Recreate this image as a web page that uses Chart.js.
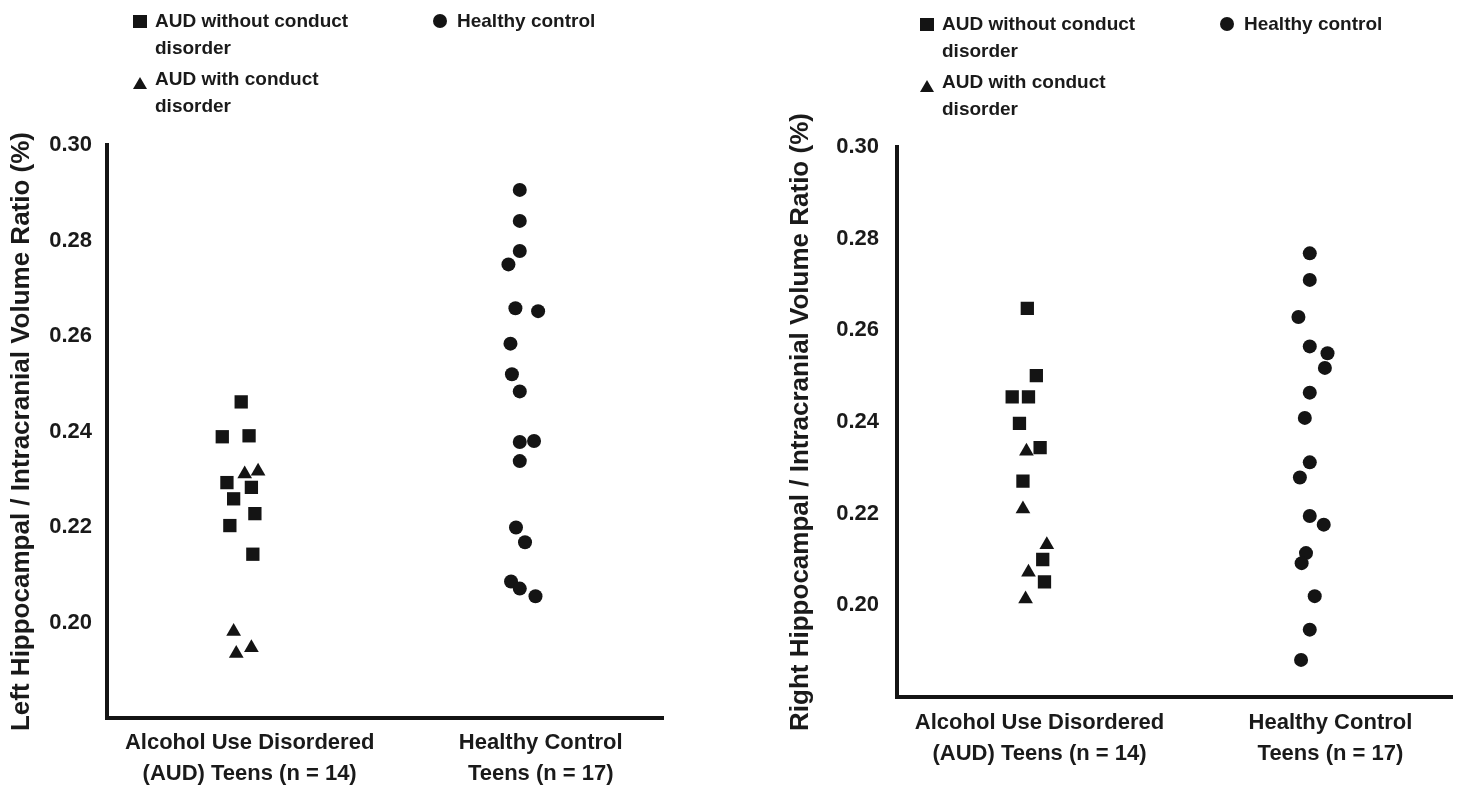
<!DOCTYPE html>
<html>
<head>
<meta charset="utf-8">
<script src="https://cdn.jsdelivr.net/npm/chart.js@4.4.1/dist/chart.umd.min.js"></script>
<style>
  html, body { margin: 0; padding: 0; background: #fff; }
  #wrap { position: relative; width: 1462px; height: 787px; overflow: hidden;
          font-family: "Liberation Sans", Arial, Helvetica, sans-serif; font-weight: bold; color: #1a1a1a; }
  canvas { position: absolute; top: 0; }
  .lg-text { position: absolute; font-size: 19px; line-height: 27px; white-space: nowrap; }
  .mk { position: absolute; background: #141414; }
  .mk.circle { border-radius: 50%; }
  .mk.tri { background: none; width: 0; height: 0;
            border-left: 7px solid transparent; border-right: 7px solid transparent; border-bottom: 12px solid #141414; }
</style>
</head>
<body>
<div id="wrap">
  <canvas id="leftChart" width="731" height="787" style="left:0"></canvas>
  <canvas id="rightChart" width="692" height="787" style="left:770px"></canvas>
</div>
<script>
// categories / ticks
const categories = [["Alcohol Use Disordered", "(AUD) Teens (n = 14)"], ["Healthy Control", "Teens (n = 17)"]];
const yTicks = [0.20, 0.22, 0.24, 0.26, 0.28, 0.30];
const seriesNames = ["AUD without conduct disorder", "AUD with conduct disorder", "Healthy control"];

// left panel (x = group position incl. jitter)
const leftNoCdX = [0.971, 0.906, 0.998, 0.922, 1.006, 0.945, 1.018, 0.932, 1.011];
const leftNoCdY = [0.2462, 0.2389, 0.2391, 0.2293, 0.2283, 0.2259, 0.2228, 0.2203, 0.2143];
const leftCdX = [0.983, 1.029, 0.945, 0.954, 1.006];
const leftCdY = [0.2311, 0.2317, 0.1981, 0.1935, 0.1947];
const leftHcX = [1.928, 1.928, 1.928, 1.889, 1.913, 1.991, 1.896, 1.901, 1.928, 1.928, 1.977, 1.928, 1.915, 1.946, 1.898, 1.928, 1.982];
const leftHcY = [0.2906, 0.2841, 0.2778, 0.2750, 0.2658, 0.2652, 0.2584, 0.2520, 0.2484, 0.2378, 0.2380, 0.2338, 0.2199, 0.2168, 0.2086, 0.2071, 0.2055];

// right panel
const rightNoCdX = [0.958, 0.989, 0.906, 0.962, 0.931, 1.002, 0.943, 1.011, 1.017];
const rightNoCdY = [0.2648, 0.2501, 0.2455, 0.2455, 0.2397, 0.2344, 0.2271, 0.2100, 0.2051];
const rightCdX = [0.955, 0.943, 1.025, 0.962, 0.952];
const rightCdY = [0.2336, 0.2210, 0.2132, 0.2072, 0.2014];
const rightHcX = [1.929, 1.929, 1.890, 1.929, 1.990, 1.981, 1.929, 1.912, 1.929, 1.895, 1.929, 1.977, 1.916, 1.901, 1.946, 1.929, 1.899];
const rightHcY = [0.2768, 0.2710, 0.2629, 0.2565, 0.2550, 0.2518, 0.2464, 0.2409, 0.2312, 0.2279, 0.2195, 0.2176, 0.2114, 0.2092, 0.2020, 0.1947, 0.1881];

Chart.defaults.font.family = '"Liberation Sans", Arial, Helvetica, sans-serif';
Chart.defaults.font.weight = "bold";
Chart.defaults.color = "#1a1a1a";

const ink = "#141414";

function pts(xs, ys) {
  return xs.map((x, i) => ({ x: x, y: ys[i] }));
}

function makeChart(id, title, sets, g) {
  const ctx = document.getElementById(id).getContext("2d");
  return new Chart(ctx, {
    type: "scatter",
    data: {
      datasets: [
        { label: seriesNames[0], data: pts(sets[0], sets[1]), pointStyle: "rect", pointRadius: 9.4 },
        { label: seriesNames[1], data: pts(sets[2], sets[3]), pointStyle: "triangle", pointRadius: 8.5 },
        { label: seriesNames[2], data: pts(sets[4], sets[5]), pointStyle: "circle", pointRadius: 7 },
      ].map((d) => Object.assign(d, { backgroundColor: ink, borderWidth: 0, pointHoverRadius: d.pointRadius })),
    },
    options: {
      responsive: false,
      animation: false,
      layout: { padding: { left: 0, top: g.top, right: g.right, bottom: 0 } },
      plugins: { legend: { display: false }, tooltip: { enabled: false } },
      scales: {
        x: {
          type: "linear",
          min: 0.51,
          max: 2.42,
          grid: { display: false, drawTicks: false },
          border: { display: true, color: ink, width: 4 },
          afterBuildTicks: (s) => { s.ticks = [{ value: 1 }, { value: 2 }]; },
          afterFit: (s) => { s.height = g.xHeight; },
          ticks: {
            padding: g.xPad,
            font: { size: 22, weight: "bold", lineHeight: 1.4 },
            callback: (v) => categories[Math.round(v) - 1],
          },
        },
        y: {
          min: 0.18,
          max: 0.30,
          grid: { display: false, drawTicks: false },
          border: { display: true, color: ink, width: 4 },
          afterBuildTicks: (s) => { s.ticks = yTicks.map((v) => ({ value: v })); },
          afterFit: (s) => { s.width = g.yWidth; },
          ticks: {
            padding: g.yPad,
            font: { size: 22, weight: "bold" },
            callback: (v) => v.toFixed(2),
          },
          title: {
            display: true,
            text: title,
            font: { size: 26, weight: "bold" },
            padding: { top: g.titlePad, bottom: 0 },
          },
        },
      },
    },
  });
}

makeChart("leftChart", "Left Hippocampal / Intracranial Volume Ratio (%)",
  [leftNoCdX, leftNoCdY, leftCdX, leftCdY, leftHcX, leftHcY],
  { top: 145, right: 68, xHeight: 69, yWidth: 107, xPad: 10, yPad: 15, titlePad: 6 });

makeChart("rightChart", "Right Hippocampal / Intracranial Volume Ratio (%)",
  [rightNoCdX, rightNoCdY, rightCdX, rightCdY, rightHcX, rightHcY],
  { top: 147, right: 5, xHeight: 90, yWidth: 127, xPad: 11, yPad: 18, titlePad: 15 });

// === HTML legends ===
const wrap = document.getElementById("wrap");
function addMarker(cls, x, y, w, h) {
  const m = document.createElement("div");
  m.className = "mk " + cls;
  m.style.left = x + "px";
  m.style.top = y + "px";
  if (cls !== "tri") { m.style.width = w + "px"; m.style.height = h + "px"; }
  wrap.appendChild(m);
}
function addText(lines, x, y) {
  const t = document.createElement("div");
  t.className = "lg-text";
  t.style.left = x + "px";
  t.style.top = y + "px";
  lines.forEach((ln, i) => {
    if (i) t.appendChild(document.createElement("br"));
    t.appendChild(document.createTextNode(ln));
  });
  wrap.appendChild(t);
}
function splitName(name) {
  const cut = name.lastIndexOf(" ");
  return name.endsWith("disorder") ? [name.slice(0, cut), name.slice(cut + 1)] : [name];
}

function addLegend(x0, y0, xc) {
  addMarker("", x0, y0 + 1, 14, 13);
  addText(splitName(seriesNames[0]), x0 + 22, y0 - 7);
  addMarker("tri", x0, y0 + 63);
  addText(splitName(seriesNames[1]), x0 + 22, y0 + 51);
  addMarker("circle", xc, y0, 14, 14);
  addText(splitName(seriesNames[2]), xc + 24, y0 - 7);
}
addLegend(133, 14, 433);
addLegend(920, 17, 1220);
</script>
</body>
</html>
